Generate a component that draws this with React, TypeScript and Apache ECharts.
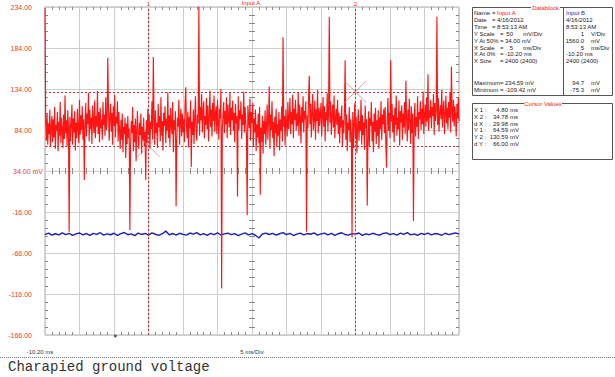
import React, { useEffect, useRef } from "react";
import * as echarts from "echarts";

// ---- time base (ms) ----
const startTime = -10.2;
const endTime = 49.8;
const msPerDiv = 5;
const stepA = 0.1;
const stepB = 0.5;

// ---- vertical scales ----
const yMinA = -166;
const yMaxA = 234;
const mvPerDivA = 50;
const centerB = 1560;
const mvPerDivB = 1000;

// ---- Input A samples (mV) ----
const inputA = [
  233, 95, 71, 104, 66, 92, 79, 109, 63, 88, 101, 69, 97, 75, 112, 61, 90, 83, 106, 58,
  94, 77, 118, 68, 99, 85, 62, 103, 73, 126, 80, 96, 64, 108, 87, -40, 100, 70, 91, 115,
  66, 98, 81, 107, 59, 93, 74, 110, 86, 68, 121, 78, 102, 84, 113, 72, 97, 23, 88, 117,
  76, 104, 91, 129, 70, 109, 85, 99, 67, 114, 93, 80, 120, 74, 101, 88, 132, 79, 106, 69,
  111, 86, 97, 72, 118, 90, 103, 77, 124, 84, 95, 172, 108, 71, 99, 116, 82, 105, 66, 113,
  89, 127, 75, 100, 92, 119, 70, 106, 83, 61, 96, 72, 104, 57, 88, 79, 99, 50, 92, 67,
  101, 74, 86, -38, 63, 95, 80, 112, 58, 90, 69, 98, 46, 84, 107, 73, 61, 93, 78, 104,
  55, 88, 71, 99, 64, 82, 23, 96, 68, 110, 79, 103, 61, 94, 85, 119, 72, 173, 98, 66,
  108, 80, 93, 62, 116, 87, 101, 70, 124, 77, 95, 59, 105, 89, 113, 68, 98, 83, 130, 74,
  102, 65, 111, 91, 79, 118, 57, 96, 84, 107, -9, 72, 99, 88, 121, 66, 93, 110, 76, 104,
  81, 97, 69, 115, 136, 90, 74, 106, 63, 100, 86, 120, 39, 94, 78, 109, 67, 98, 125, 83,
  71, 103, 92, 234.59, 77, 112, 96, 128, 81, 106, 119, 74, 101, 90, 123, 85, 114, 70, 99, 132,
  88, 109, 76, 117, 95, 126, 82, 104, 113, 79, 121, 93, 72, 110, 98, 134, -109.42, 86, 102, 118,
  80, 107, 91, 124, 74, 115, 99, 87, 129, 78, 111, 96, 120, 83, 105, 69, 116, 92, 101, 3,
  125, 84, 108, 97, 119, 73, 103, 90, 131, 81, 112, 94, 77, -20, 114, 99, 86, 122, 71, 106,
  93, 117, 64, 98, 81, 109, 58, 91, 75, 104, 68, 112, 5, 87, 70, 101, 55, 95, 79, 108,
  66, 89, 115, 72, 97, 137, 61, 103, 84, 119, 74, 94, 52, 100, 80, 110, 63, 91, 77, 106,
  59, 97, 83, 113, 70, 197, 88, 101, 65, 109, 92, 76, 118, 85, 99, 123, 79, 106, 91, 127,
  74, 110, 96, 121, 83, 104, 89, 130, 77, 115, 100, 68, 112, 93, 125, 81, 107, 97, 119, -40,
  102, 86, 123, 150, 91, 116, 75, 105, 128, 84, 98, 120, 72, 109, 95, 133, 80, 111, 89, 103,
  117, 76, 100, 124, 88, 113, 70, 106, 96, 129, 82, 108, 222, 93, 119, 78, 102, 115, 87, 126,
  74, 98, 110, 90, 121, 79, 105, 68, 101, 87, 114, 63, 96, 80, 108, 169, 72, 103, 58, 93,
  84, 112, 69, 97, 79, -47, 106, 62, 91, 117, 75, 100, 56, 88, 109, 71, 95, 83, 121, 66,
  102, 78, 93, 60, 114, 86, 97, -8, 73, 107, 64, 99, 89, 118, 70, 94, 57, 104, 82, 111,
  67, 96, 77, 108, 61, 100, 85, 119, 72, 103, 91, 110, 80, 112, 66, 38, 97, 123, 83, 105,
  74, 169, 94, 116, 81, 102, 69, 111, 90, 126, 77, 99, 85, 120, 65, 107, 93, 114, 72, 104,
  87, 118, 79, 144, 98, 70, 109, 84, 122, 95, 67, 113, 80, 104, -27, 91, 117, 76, 100, 88,
  125, 73, 106, 97, 119, 84, 110, 91, 131, 79, 102, 115, 88, 124, 94, 152, 83, 108, 99, 121,
  86, 112, 101, 128, 78, 117, 95, 107, 222, 90, 123, 82, 105, 114, 97, 133, 87, 109, 120, 79,
  104, 126, 92, 111, 85, 118, 99, 130, 81, 161, 107, 94, 121, 88, 113, 102, 76, 116, 98, 124,
  95,
];

// ---- Input B samples (mV) ----
const inputB = [
  10, 45, -5, 30, 0, 52, 8, 38, -12, 25, 48, 2, 35, -8, 40, 15, 55, -3, 28, 5,
  42, -10, 33, 60, 6, 26, -15, 44, 12, 37, -2, 50, 18, -9, 30, 94.7, 4, 36, -6, 41,
  14, -4, 47, 20, 58, 3, 31, -11, 39, 9, 53, -1, 27, 43, 7, 34, -14, 22, 49, 1,
  32, -7, -75.3, 24, 46, 11, 38, -5, 29, 56, 8, 40, -13, 21, 45, 0, 35, 17, 51, -2,
  26, 43, 4, 37, -8, 30, 54, 10, -4, 33, 19, 48, -10, 28, 6, 41, 13, -6, 36, 50,
  7, 31, -3, 44, 16, 57, 2, 27, -9, 39, 12, 46, 0, 34, 22, -7, 42, 9, 29, 52,
  18,
];

// ---- cursors ----
const cursorX = [4.8, 34.78];
const cursorY = [64.59, 130.59];
const cursorNames = ["1", "2"];
const triggerTime = 0;

// ---- datablock ----
const blockLabels = ["Name", "Date", "Time", "Y Scale", "Y At 50%", "X Scale", "X At 0%", "X Size", "Maximum", "Minimum"];
const blockANum = ["Input A", "4/16/2012", "8:53:13 AM", "50", "34.00 mV", "5", "-10.20 ms", "2400 (2400)", "234.59 mV", "-109.42 mV"];
const blockAUnit = ["", "", "", "mV/Div", "", "ms/Div", "", "", "", ""];
const blockBNum = ["Input B", "4/16/2012", "8:53:13 AM", "1", "1560.0", "5", "-10.20 ms", "2400 (2400)", "94.7", "-75.3"];
const blockBUnit = ["", "", "", "V/Div", "mV", "ms/Div", "", "", "mV", "mV"];

const cursorLabels = ["X 1", "X 2", "d X", "Y 1", "Y 2", "d Y"];
const cursorValues = ["4.80", "34.78", "29.98", "64.59", "130.59", "66.00"];
const cursorUnits = ["ms", "ms", "ms", "mV", "mV", "mV"];

const caption = "Charapied ground voltage";

const RED = "#ff1414";
const BLUE = "#1c1cc0";
const FONT = '"Liberation Sans", Arial, sans-serif';

function txt(text: string, x: number, y: number, fill = "#1a1a1a", align = "left", size = 6, family = FONT) {
  return {
    type: "text",
    x,
    y,
    silent: true,
    z: 10,
    style: {
      text,
      fill,
      font: `${size}px ${family}`,
      align,
      verticalAlign: "middle",
      textAlign: align,
      textVerticalAlign: "middle",
    },
  };
}

function buildGraphic() {
  const els: any[] = [];
  // Datablock frame
  els.push({ type: "rect", z: 5, shape: { x: 472.5, y: 7.5, width: 140, height: 88 }, style: { fill: "#fff", stroke: "#555", lineWidth: 1 } });
  els.push({ type: "line", z: 6, shape: { x1: 563.5, y1: 7.5, x2: 563.5, y2: 95.5 }, style: { stroke: "#555", lineWidth: 1 } });
  els.push({ type: "rect", z: 7, shape: { x: 531, y: 4, width: 29, height: 7 }, style: { fill: "#fff" } });
  els.push(txt("Datablock", 545.5, 7.5, RED, "center"));
  const rowY = [13, 20, 27, 34, 41, 47.5, 54, 61, 83, 90];
  blockLabels.forEach((l, i) => {
    const y = rowY[i];
    const eqX = i < 3 ? 492 : 500;
    const valX = i < 3 ? 497 : 505;
    els.push(txt(l, 474, y));
    els.push(txt("=", eqX, y));
    const colA = i === 0 ? RED : "#1a1a1a";
    const colB = i === 0 ? BLUE : "#1a1a1a";
    if (blockAUnit[i]) {
      els.push(txt(blockANum[i], 513, y, colA, "right"));
      els.push(txt(blockAUnit[i], 523, y, colA));
    } else {
      els.push(txt(blockANum[i], valX, y, colA));
    }
    if (blockBUnit[i]) {
      els.push(txt(blockBNum[i], 584, y, colB, "right"));
      els.push(txt(blockBUnit[i], 591, y, colB));
    } else {
      els.push(txt(blockBNum[i], 566, y, colB));
    }
  });
  // Cursor values frame
  els.push({ type: "rect", z: 5, shape: { x: 472.5, y: 103.5, width: 140, height: 56 }, style: { fill: "#fff", stroke: "#555", lineWidth: 1 } });
  els.push({ type: "rect", z: 7, shape: { x: 524, y: 100, width: 38, height: 7 }, style: { fill: "#fff" } });
  els.push(txt("Cursor Values", 543, 103.5, RED, "center"));
  const cy = [110, 117, 123.5, 130, 137, 143.5];
  cursorLabels.forEach((l, i) => {
    els.push(txt(l + " :", 474, cy[i]));
    els.push(txt(cursorValues[i], 508, cy[i], "#1a1a1a", "right"));
    els.push(txt(cursorUnits[i], 510, cy[i]));
  });
  // title (partly cut at the top, as in the capture)
  els.push(txt("Input A", 251, 2.5, RED, "center", 6));
  // separator & caption
  els.push({ type: "line", z: 5, shape: { x1: 0, y1: 357.5, x2: 615, y2: 357.5 }, style: { stroke: "#777", lineWidth: 1, lineDash: [1, 1] } });
  els.push(txt(caption, 8, 367, "#333", "left", 14, '"Liberation Mono", "DejaVu Sans Mono", monospace'));
  return els;
}

export default function App() {
  const ref = useRef<HTMLDivElement>(null);
  useEffect(() => {
    if (!ref.current) return;
    const chart = echarts.init(ref.current, undefined, { renderer: "svg" });
    const dataA = inputA.map((v, i) => [startTime + i * stepA, v]);
    const dataB = inputB.map((v, i) => [startTime + i * stepB, v]);
    const halfDivs = (yMaxA - yMinA) / mvPerDivA / 2;
    const minB = centerB - mvPerDivB * halfDivs;
    const maxB = centerB + mvPerDivB * halfDivs;

    const minor = (len: number) => ({ show: true, splitNumber: 5, length: len, lineStyle: { color: "#8a8a8a", width: 1 } });
    const baseX = {
      type: "value",
      min: startTime,
      max: endTime,
      interval: msPerDiv,
      axisLine: { show: false, onZero: false },
      splitLine: { show: false },
      axisLabel: { show: false },
    };
    const baseY = {
      type: "value",
      min: yMinA,
      max: yMaxA,
      interval: mvPerDivA,
      axisLine: { show: false, onZero: false },
      splitLine: { show: false },
      axisLabel: { show: false },
    };

    chart.setOption({
      animation: false,
      backgroundColor: "#fff",
      grid: { left: 45, top: 7, width: 414, height: 328, show: true, borderColor: "#a8a8a8", borderWidth: 1, backgroundColor: "transparent" },
      xAxis: [
        {
          ...baseX,
          position: "bottom",
          axisTick: { show: false, inside: true },
          minorTick: minor(3),
          splitLine: { show: true, lineStyle: { color: "#cdcdcd", width: 1 } },
          axisLabel: {
            show: true,
            margin: 14,
            color: "#333",
            fontSize: 6,
            fontFamily: FONT,
            showMinLabel: true,
            formatter: (v: number) => {
              if (Math.abs(v - startTime) < 0.01) return "{a|-10.20 ms}";
              if (Math.abs(v - (startTime + 6 * msPerDiv)) < 0.01) return "5 ms/Div";
              return "";
            },
            rich: { a: { fontSize: 6, color: "#333", fontFamily: FONT, padding: [0, 10, 0, 0] } },
          },
        },
        { ...baseX, position: "top", axisTick: { show: false, inside: true }, minorTick: minor(3) },
        { ...baseX, position: "bottom", offset: -164, axisTick: { show: false, inside: true }, minorTick: minor(3) },
        { ...baseX, position: "bottom", offset: -164, axisTick: { show: false, inside: false }, minorTick: minor(3) },
      ],
      yAxis: [
        {
          ...baseY,
          position: "left",
          axisTick: { show: false, inside: true },
          minorTick: minor(3),
          splitLine: { show: true, lineStyle: { color: "#cdcdcd", width: 1 } },
          axisLabel: {
            show: true,
            margin: 2,
            color: "#e83a30",
            fontSize: 7,
            fontFamily: FONT,
            formatter: (v: number) => {
              if (Math.abs(v - 34) < 0.01) return "34.00 mV";
              return "{n|" + v.toFixed(2) + "}";
            },
            rich: { n: { fontSize: 7, color: "#e83a30", fontFamily: FONT, padding: [0, 11, 0, 0] } },
          },
        },
        { ...baseY, position: "right", axisTick: { show: false, inside: true }, minorTick: minor(3) },
        { ...baseY, position: "left", offset: -207, axisTick: { show: false, inside: true }, minorTick: minor(3) },
        { ...baseY, position: "left", offset: -207, axisTick: { show: false, inside: false }, minorTick: minor(3) },
        { type: "value", min: minB, max: maxB, show: false, position: "right", axisLine: { onZero: false } },
      ],
      graphic: { elements: buildGraphic() },
      series: [
        {
          name: "Input B",
          type: "line",
          xAxisIndex: 0,
          yAxisIndex: 4,
          data: dataB,
          showSymbol: false,
          symbol: "none",
          lineStyle: { color: BLUE, width: 1.4 },
          silent: true,
          z: 2,
        },
        {
          name: "Input A",
          type: "line",
          xAxisIndex: 0,
          yAxisIndex: 0,
          data: dataA,
          showSymbol: false,
          symbol: "none",
          clip: true,
          lineStyle: { color: RED, width: 1.15 },
          silent: true,
          z: 3,
          markLine: {
            silent: true,
            symbol: ["none", "none"],
            lineStyle: { color: "#e02828", type: [2, 2], width: 1 },
            label: { show: false },
            data: [
              ...cursorX.map((v, i) => ({
                xAxis: v,
                label: { show: true, position: "end", formatter: cursorNames[i], color: RED, fontSize: 6, distance: 0 },
              })),
              ...cursorY.map((v) => ({ yAxis: v })),
            ],
          },
        },
        {
          name: "cursor",
          type: "scatter",
          xAxisIndex: 0,
          yAxisIndex: 0,
          data: cursorX.map((x, i) => [x, cursorY[i]]),
          symbol: "path://M0 0L10 10M10 0L0 10",
          symbolSize: 22,
          itemStyle: { color: "transparent", borderColor: "#f07a7a", borderWidth: 1 },
          silent: true,
          z: 4,
        },
        {
          name: "trigger",
          type: "scatter",
          xAxisIndex: 0,
          yAxisIndex: 0,
          data: [[triggerTime, yMinA]],
          symbol: "circle",
          symbolSize: 3,
          symbolOffset: [0, 1],
          clip: false,
          itemStyle: { color: "#333" },
          silent: true,
          z: 4,
        },
      ],
    });
    return () => chart.dispose();
  }, []);
  return <div ref={ref} style={{ position: "fixed", left: 0, top: 0, width: 615, height: 377 }} />;
}
